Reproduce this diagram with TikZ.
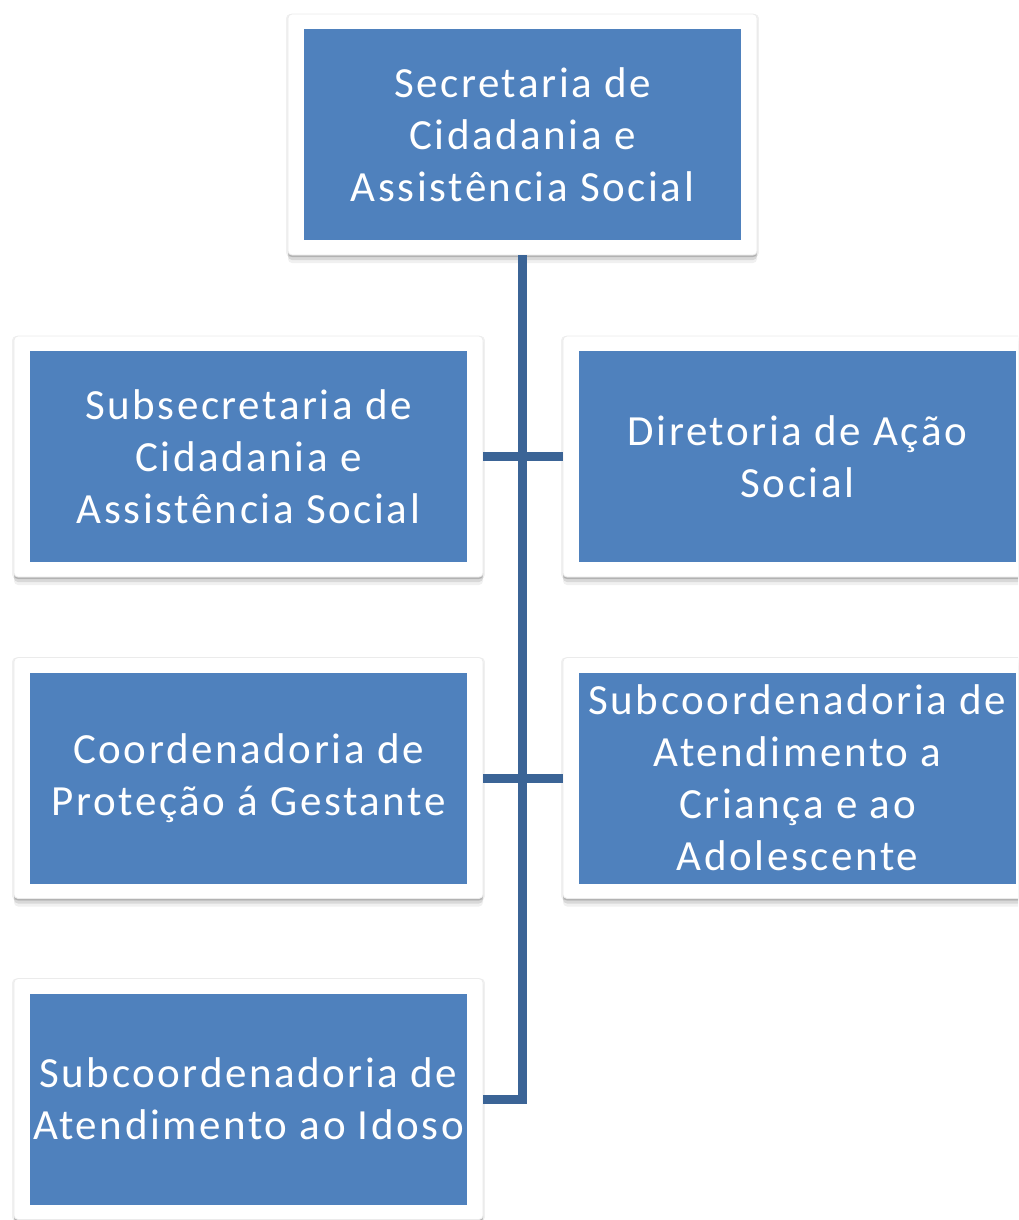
\documentclass[tikz,border=0pt]{standalone}
\usepackage{fontspec}
\setmainfont{Carlito}[LetterSpace=6]
\usetikzlibrary{shadows}
\definecolor{blueC}{HTML}{4F81BD}
\definecolor{lineC}{HTML}{3B6496}
\begin{document}
\begin{tikzpicture}[x=1pt,y=-1pt,
  frame/.style={fill=white, draw=black!8, line width=0.8pt, rounded corners=4pt,
    minimum width=469pt, minimum height=241pt, inner sep=0pt,
    drop shadow={shadow xshift=0pt, shadow yshift=-2pt, opacity=0.12, fill=black},
    drop shadow={shadow xshift=0pt, shadow yshift=-5pt, opacity=0.10, fill=black},
    drop shadow={shadow xshift=0pt, shadow yshift=-8pt, opacity=0.06, fill=black},
    drop shadow={shadow xshift=0pt, shadow yshift=-1pt, shadow scale=1.008, opacity=0.06, fill=black}},
  card/.style={fill=blueC, minimum width=437pt, minimum height=211pt, inner sep=0pt, text=white, align=center,
    font=\fontsize{43}{52}\selectfont},
  link/.style={draw=lineC, line width=9pt, line join=miter}]
\useasboundingbox (0,0) rectangle (1018,1220);
\clip (0,0) rectangle (1018,1220);
% frames
\node[frame] (topF) at (522.5,134.5) {};
\node[frame] (subF) at (248.5,456.5) {};
\node[frame] (dirF) at (797.5,456.5) {};
\node[frame] (coordF) at (248.5,778) {};
\node[frame] (subcaF) at (797.5,778) {};
\node[frame] (subidF) at (248.5,1099) {};
% connectors
\coordinate (corner) at (topF.south |- subidF.east);
\draw[link] (topF.south) -- (corner) -- (subidF.east);
\draw[link] (subF.east) -- (dirF.west);
\draw[link] (coordF.east) -- (subcaF.west);
% cards
\node[card] (top) at (topF.center) {Secretaria de\\Cidadania e\\Assistência Social};
\node[card] (sub) at (subF.center) {Subsecretaria de\\Cidadania e\\Assistência Social};
\node[card] (dir) at (dirF.center) {Diretoria de Ação\\Social};
\node[card] (coord) at (coordF.center) {Coordenadoria de\\Proteção á Gestante};
\node[card] (subca) at (subcaF.center) {Subcoordenadoria de\\Atendimento a\\Criança e ao\\Adolescente};
\node[card] (subid) at (subidF.center) {Subcoordenadoria de\\Atendimento ao Idoso};
\end{tikzpicture}
\end{document}
